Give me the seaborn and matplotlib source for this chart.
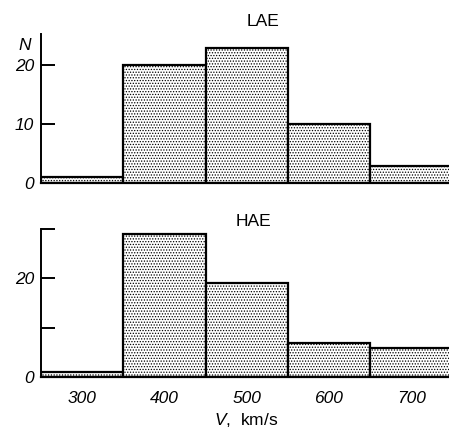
import matplotlib
matplotlib.use("Agg")
import matplotlib.pyplot as plt
import seaborn as sns
import numpy as np

# Data
bin_edges = [250, 350, 450, 550, 650, 750]
bin_centers = [300, 400, 500, 600, 700]
lae_counts = [1, 20, 23, 10, 3]
hae_counts = [1, 29, 19, 7, 6]
x_ticks = [300, 400, 500, 600, 700]
x_tick_labels = ["300", "400", "500", "600", "700"]
lae_yticks = [0, 10, 20]
lae_ytick_labels = ["0", "10", "20"]
hae_yticks = [0, 10, 20, 30]
hae_ytick_labels = ["0", "", "20", ""]

sns.set_style("white")
plt.rcParams['font.family'] = ['Liberation Sans', 'DejaVu Sans']
plt.rcParams['text.color'] = 'black'
plt.rcParams['xtick.color'] = 'black'
plt.rcParams['ytick.color'] = 'black'
plt.rcParams['axes.edgecolor'] = 'black'
plt.rcParams['mathtext.fontset'] = 'custom'
plt.rcParams['mathtext.it'] = 'Liberation Sans:italic'
plt.rcParams['mathtext.rm'] = 'Liberation Sans'
plt.rcParams['hatch.linewidth'] = 0.6
plt.rcParams['hatch.color'] = 'black'

FS = 12.5
W, H = 449, 436
fig = plt.figure(figsize=(W / 100, H / 100), dpi=100)

def ax_rect(left, top, right, bottom):
    return [left / W, 1 - bottom / H, (right - left) / W, (bottom - top) / H]

ax1 = fig.add_axes(ax_rect(41, 34, 449, 183.3))
ax2 = fig.add_axes(ax_rect(41, 229, 449, 377.3))

for ax, counts, ymax, yt, ytl, title, tx, ty in [
    (ax1, lae_counts, 25.3, lae_yticks, lae_ytick_labels, "LAE", 263, 21),
    (ax2, hae_counts, 30, hae_yticks, hae_ytick_labels, "HAE", 253, 222),
]:
    sns.histplot(x=bin_centers, weights=counts, bins=bin_edges, ax=ax,
                 color="white", edgecolor="black", linewidth=1.6, alpha=1,
                 legend=False)
    for p in ax.patches:
        p.set_hatch('......')
        p.set_facecolor('white')
        p.set_edgecolor('black')
    ax.set_xlim(250, 746)
    ax.set_ylim(0, ymax)
    ax.set_yticks(yt)
    ax.set_yticklabels(ytl, fontstyle='italic', fontsize=FS)
    ax.tick_params(axis='y', left=True, direction='in', length=10, width=1.4, pad=5,
                   colors='black')
    ax.spines['top'].set_visible(False)
    ax.spines['right'].set_visible(False)
    ax.spines['left'].set_linewidth(1.4)
    ax.spines['bottom'].set_linewidth(1.6)
    ax.spines['left'].set_color('black')
    ax.spines['bottom'].set_color('black')
    ax.set_ylabel("")
    ax.set_xlabel("")
    fig.text(tx / W, 1 - ty / H, title, ha='center', va='center', fontsize=FS)

ax1.set_xticks([])
ax2.set_xticks(x_ticks)
ax2.set_xticklabels(x_tick_labels, fontstyle='italic', fontsize=FS)
ax2.tick_params(axis='x', bottom=True, direction='in', length=0, pad=10, colors='black')

fig.text(25 / W, 1 - 45 / H, "N", ha='center', va='center', fontsize=FS, fontstyle='italic')
fig.text(246 / W, 1 - 420 / H, r"$\mathit{V}$,  km/s", ha='center', va='center', fontsize=FS)

fig.savefig("out.png", dpi=100)
